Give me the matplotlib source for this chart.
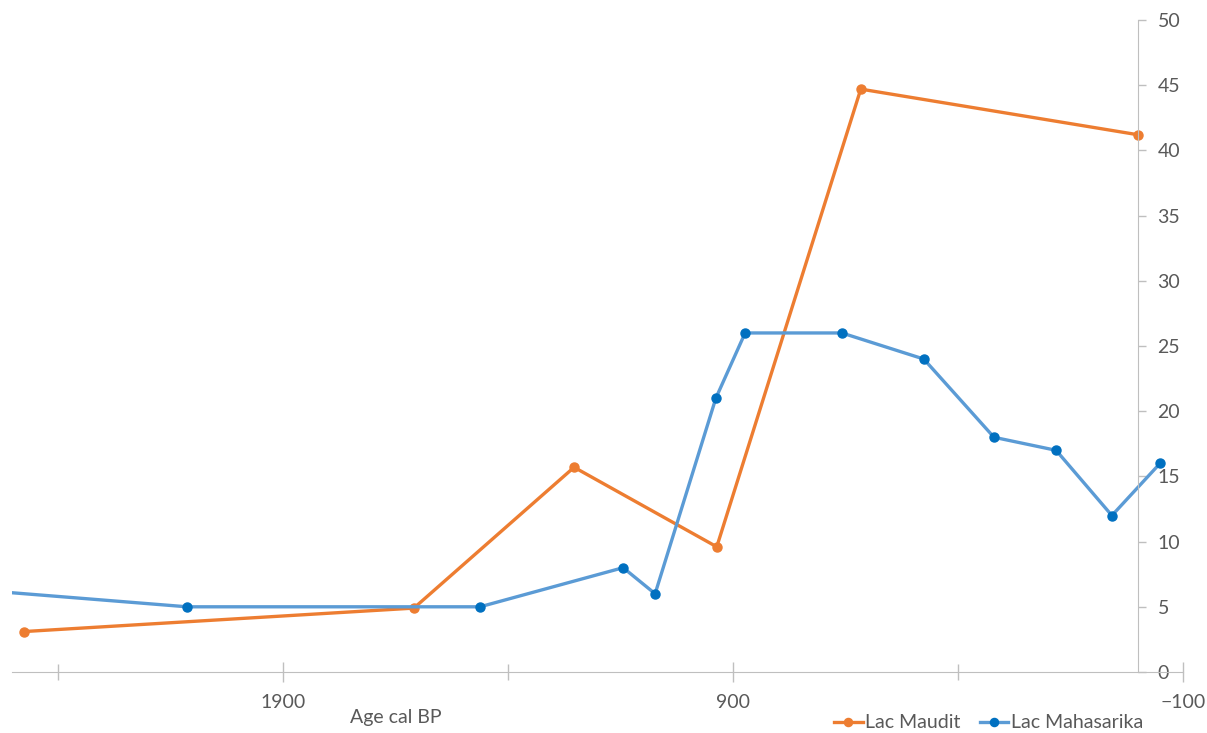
import matplotlib.pyplot as plt
from matplotlib.ticker import MultipleLocator, FixedLocator

plt.rcParams['font.family'] = ['Lato', 'DejaVu Sans']

# Lac Maudit
maudit_age = [2476, 1609, 1253, 936, 616, 0]
maudit_val = [3.1, 4.9, 15.7, 9.6, 44.7, 41.2]

# Lac Mahasarika
mahas_age = [2600, 2113, 1462, 1144, 1073, 938, 873, 658, 476, 320, 182, 58, -49]
mahas_val = [6.35, 5, 5, 8, 6, 21, 26, 26, 24, 18, 17, 12, 16]

major_ticks = [1900, 900, -100]
minor_ticks = [2400, 1400, 400]

orange = '#ED7D31'
blue_line = '#5B9BD5'
blue_mark = '#0070C0'
grey = '#595959'
axis_col = '#BFBFBF'

fig = plt.figure(figsize=(12.07, 7.33), dpi=100)
ax = fig.add_axes([12/1207, 61/733, 1171/1207, 652/733])

ax.plot(maudit_age, maudit_val, color=orange, lw=2.4, marker='o', ms=6.5,
        mfc=orange, mec=orange, label='Lac Maudit')
ax.plot(mahas_age, mahas_val, color=blue_line, lw=2.4, marker='o', ms=6.5,
        mfc=blue_mark, mec=blue_mark, label='Lac Mahasarika')

ax.set_xlim(2502, -100)
ax.set_ylim(0, 50)

for s in ['top', 'left']:
    ax.spines[s].set_visible(False)
ax.spines['right'].set_position(('data', 0))
ax.spines['right'].set_color(axis_col)
ax.spines['bottom'].set_color(axis_col)

ax.xaxis.set_major_locator(FixedLocator(major_ticks))
ax.xaxis.set_minor_locator(FixedLocator(minor_ticks))
ax.tick_params(axis='x', which='both', direction='inout', length=14, width=1,
               color=axis_col, labelcolor=grey, labelsize=14, pad=9)
ax.tick_params(axis='x', which='minor', length=12)

ax.yaxis.tick_right()
ax.yaxis.set_major_locator(MultipleLocator(5))
ax.tick_params(axis='y', direction='out', length=6, width=1, color=axis_col,
               labelcolor=grey, labelsize=14, pad=8)

fig.text(396/1207, 1 - 718/733, 'Age cal BP', ha='center', va='center',
         color=grey, fontsize=14)

ax.legend(loc='center', bbox_to_anchor=(989/1207, 1 - 723/733),
          bbox_transform=fig.transFigure, ncol=2, frameon=False,
          fontsize=14, labelcolor=grey, handlelength=1.45, handletextpad=0.15,
          columnspacing=1.0, markerscale=0.9, borderpad=0)

fig.savefig('out.png', dpi=100)
